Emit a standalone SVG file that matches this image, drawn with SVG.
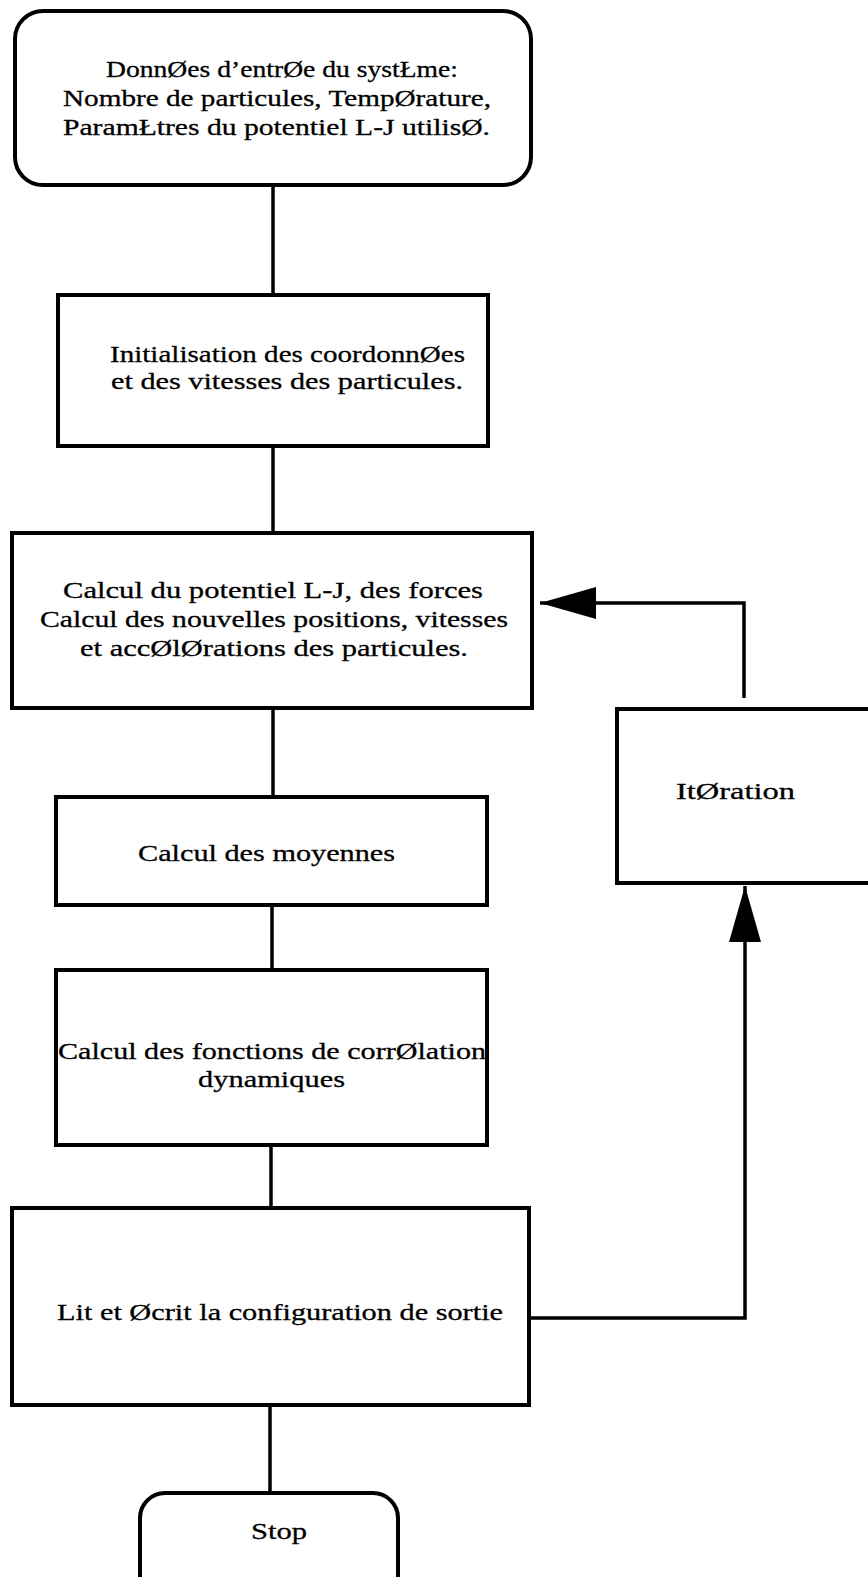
<svg xmlns="http://www.w3.org/2000/svg" width="868" height="1577" viewBox="0 0 868 1577">
<style>
.box{fill:#fff;stroke:#000;stroke-width:4}
.conn{fill:none;stroke:#000;stroke-width:3.5}
.t{font-family:"Liberation Serif","DejaVu Serif",serif;font-size:24px;fill:#000;stroke:#000;stroke-width:0.3}
</style>
<defs>
<marker id="arr" markerUnits="userSpaceOnUse" markerWidth="60" markerHeight="34" refX="56" refY="16" orient="auto">
<path d="M0,0 L56,16 L0,32 Z" fill="#000"/>
</marker>
</defs>
<rect width="868" height="1577" fill="#fff"/>
<g id="connectors">
<line class="conn" x1="273" y1="185" x2="273" y2="295"/>
<line class="conn" x1="273" y1="446" x2="273" y2="533"/>
<line class="conn" x1="273" y1="708" x2="273" y2="797"/>
<line class="conn" x1="272" y1="905" x2="272" y2="970"/>
<line class="conn" x1="271" y1="1145" x2="271" y2="1208"/>
<line class="conn" x1="270" y1="1405" x2="270" y2="1493"/>
<path class="conn" d="M530,1318 L745,1318 L745,886" marker-end="url(#arr)"/>
<path class="conn" d="M744,698 L744,603 L540,603" marker-end="url(#arr)"/>
</g>
<g id="n-input">
<rect class="box" x="15" y="11" width="516" height="174" rx="28"/>
<text class="t" x="106" y="77" textLength="352" lengthAdjust="spacingAndGlyphs">DonnØes d’entrØe du systŁme:</text>
<text class="t" x="63" y="106" textLength="428" lengthAdjust="spacingAndGlyphs">Nombre de particules, TempØrature,</text>
<text class="t" x="63" y="135" textLength="427" lengthAdjust="spacingAndGlyphs">ParamŁtres du potentiel L-J utilisØ.</text>
</g>
<g id="n-init">
<rect class="box" x="58" y="295" width="430" height="151"/>
<text class="t" x="110" y="362" textLength="355" lengthAdjust="spacingAndGlyphs">Initialisation des coordonnØes</text>
<text class="t" x="111" y="389" textLength="352" lengthAdjust="spacingAndGlyphs">et des vitesses des particules.</text>
</g>
<g id="n-calcul">
<rect class="box" x="12" y="533" width="520" height="175"/>
<text class="t" x="63" y="598" textLength="420" lengthAdjust="spacingAndGlyphs">Calcul du potentiel L-J, des forces</text>
<text class="t" x="40" y="627" textLength="468" lengthAdjust="spacingAndGlyphs">Calcul des nouvelles positions, vitesses</text>
<text class="t" x="80" y="656" textLength="388" lengthAdjust="spacingAndGlyphs">et accØlØrations  des particules.</text>
</g>
<g id="n-moyennes">
<rect class="box" x="56" y="797" width="431" height="108"/>
<text class="t" x="138" y="861" textLength="257" lengthAdjust="spacingAndGlyphs">Calcul des moyennes</text>
</g>
<g id="n-correlation">
<rect class="box" x="56" y="970" width="431" height="175"/>
<text class="t" x="58" y="1059" textLength="428" lengthAdjust="spacingAndGlyphs">Calcul des fonctions de corrØlation</text>
<text class="t" x="198" y="1087" textLength="147" lengthAdjust="spacingAndGlyphs">dynamiques</text>
</g>
<g id="n-sortie">
<rect class="box" x="12" y="1208" width="517" height="197"/>
<text class="t" x="57" y="1320" textLength="446" lengthAdjust="spacingAndGlyphs">Lit et Øcrit la configuration de sortie</text>
</g>
<g id="n-iteration">
<rect class="box" x="617" y="709" width="270" height="174"/>
<text class="t" x="676" y="799" textLength="119" lengthAdjust="spacingAndGlyphs">ItØration</text>
</g>
<g id="n-stop">
<rect class="box" x="140" y="1493" width="258" height="110" rx="25"/>
<text class="t" x="251" y="1539" textLength="56" lengthAdjust="spacingAndGlyphs">Stop</text>
</g>
</svg>
